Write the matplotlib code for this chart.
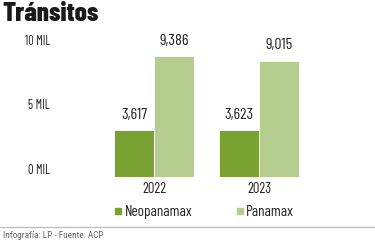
import matplotlib
matplotlib.use("Agg")
import matplotlib.pyplot as plt
from matplotlib.lines import Line2D
import numpy as np

# datos
years = ["2022", "2023"]
neopanamax = [3617, 3623]
panamax = [9386, 9015]
yticks = [0, 5000, 10000]
ytick_labels = ["0 MIL", "5 MIL", "10 MIL"]

c_neo = "#7aa233"
c_pan = "#b4cc8e"
fnt = ["Barlow Condensed", "Roboto Condensed", "DejaVu Sans"]
plt.rcParams["font.family"] = fnt

fig = plt.figure(figsize=(3.75, 2.4), dpi=100)
W, H = 375, 240
ax = fig.add_axes([100 / W, (H - 177) / H, 215 / W, (177 - 40) / H])

x = np.arange(len(years))
bw = 0.38
b1 = ax.bar(x - bw / 2, neopanamax, bw, color=c_neo, edgecolor="white", linewidth=0.6)
b2 = ax.bar(x + bw / 2, panamax, bw, color=c_pan, edgecolor="white", linewidth=0.6)

for bars, vals in ((b1, neopanamax), (b2, panamax)):
    for b, v in zip(bars, vals):
        ax.annotate(f"{v:,}", (b.get_x() + b.get_width() / 2, v), xytext=(0, 6),
                    textcoords="offset points", ha="center", va="bottom",
                    fontsize=11.5, color="#222222")

ax.set_xlim(-0.514, 1.533)
ax.set_ylim(0, 10620)
ax.set_xticks(x)
ax.set_xticklabels(years, fontsize=10.5, color="#222222")
ax.set_yticks(yticks)
ax.set_yticklabels(ytick_labels, fontsize=9, color="#222222")
ax.tick_params(axis="y", length=0, pad=36)
ax.tick_params(axis="x", length=0, pad=3.5)
for lbl in ax.get_yticklabels():
    lbl.set_verticalalignment("bottom")
for s in ax.spines.values():
    s.set_visible(False)

fig.text(2 / W, 1 - 14 / H, "Tránsitos", fontsize=19.5, fontweight="heavy",
         va="center", ha="left", color="#1a1a1a")

handles = [Line2D([], [], marker="s", ls="", color=c_neo, markersize=4.5),
           Line2D([], [], marker="s", ls="", color=c_pan, markersize=4.5)]
fig.legend(handles, ["Neopanamax", "Panamax"], loc="center left",
           bbox_to_anchor=(115 / W, 1 - 212 / H), ncol=2, frameon=False,
           fontsize=11, handlelength=0.45, handletextpad=0.2, columnspacing=2.85,
           borderpad=0, borderaxespad=0, labelcolor="#222222")

fig.add_artist(Line2D([0, 1], [1 - 227 / H, 1 - 227 / H], color="#bbbbbb", lw=0.9))
fig.text(3 / W, 1 - 235 / H, "Infografía: LP - Fuente: ACP", fontsize=6.6,
         color="#666666", va="center", ha="left", family=["Roboto Condensed", "DejaVu Sans"])

fig.savefig("out.png", dpi=100)
